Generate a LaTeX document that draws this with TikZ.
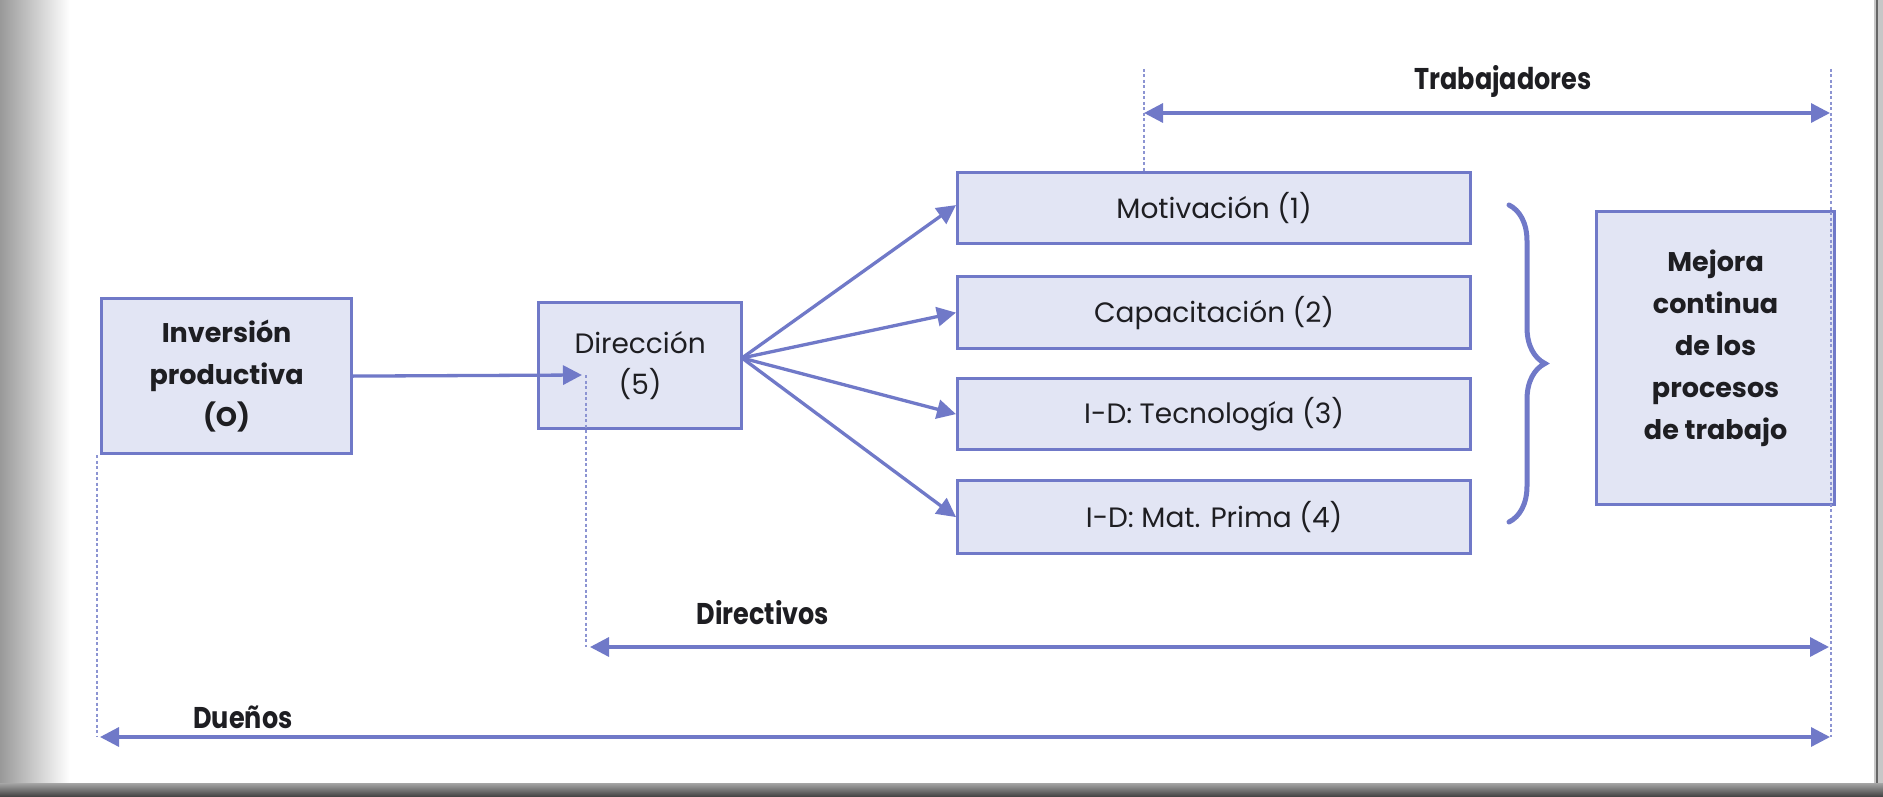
\documentclass[tikz,border=0pt]{standalone}
\usepackage{fontspec}
\setmainfont{Poppins}
\newfontfamily\lblfont{Poppins}[FakeStretch=0.85]
\usetikzlibrary{arrows.meta,decorations.pathreplacing}
\definecolor{lineblue}{RGB}{112,121,200}
\definecolor{guideblue}{RGB}{140,148,210}
\definecolor{boxfill}{RGB}{226,229,244}
\definecolor{txt}{RGB}{30,30,34}
\tikzset{
  box/.style={draw=lineblue, fill=boxfill, line width=3.2pt, inner sep=0pt,
    anchor=north west, align=center, text=txt},
  regtext/.style={font=\fontsize{28}{41}\selectfont},
  boldtext/.style={font=\bfseries\fontsize{27}{42}\selectfont},
  conn/.style={draw=lineblue, line width=3.3pt, -{Triangle[length=19pt,width=19pt]}},
  twoway/.style={draw=lineblue, line width=3.3pt,
    {Triangle[length=19pt,width=19pt]}-{Triangle[length=19pt,width=19pt]}},
  guide/.style={draw=guideblue, line width=1.3pt, dash pattern=on 3pt off 2.5pt},
  lbl/.style={font=\lblfont\bfseries\fontsize{30}{30}\selectfont, text=txt, inner sep=0pt},
  bracestyle/.style={draw=lineblue, line width=5pt, line cap=round, decorate,
    decoration={brace, amplitude=36pt}}
}
\begin{document}
\begin{tikzpicture}[x=1pt,y=-1pt]
\useasboundingbox (0,0) rectangle (1883,797);
% page scan shading
\fill[white] (0,0) rectangle (1883,797);
\shade[left color=black!40, right color=white] (0,0) rectangle (70,783);
\fill[black!22] (1874,0) rectangle (1883,797);
\fill[black!60] (1876,0) rectangle (1878,790);
\shade[top color=black!35, bottom color=black!75] (0,783) rectangle (1883,797);

% boxes
\node[box, boldtext, minimum width=250pt, minimum height=155pt] (inv) at (100,297)
  {Inversión\\productiva\\(O)};
\node[box, regtext, minimum width=203pt, minimum height=126pt] (dir) at (537,301)
  {Dirección\\(5)};
\node[box, regtext, minimum width=513pt, minimum height=71pt] (m1) at (956,171) {Motivación (1)};
\node[box, regtext, minimum width=513pt, minimum height=72pt] (m2) at (956,275) {Capacitación (2)};
\node[box, regtext, minimum width=513pt, minimum height=71pt] (m3) at (956,377) {I-D: Tecnología (3)};
\node[box, regtext, minimum width=513pt, minimum height=73pt] (m4) at (956,479) {I-D: Mat. Prima (4)};
\node[box, boldtext, minimum width=238pt, minimum height=293pt, text depth=26pt] (mej) at (1595,210)
  {Mejora\\continua\\de los\\procesos\\de trabajo};

% brace
\draw[bracestyle] (1509,205) -- (1509,522);

% coordinates
\coordinate (dtip) at (582,375);
\coordinate (fan) at (742,358);
\coordinate (trL) at (1144,113);
\coordinate (trR) at (1830,113);
\coordinate (diL) at (590,647);
\coordinate (diR) at (1829,647);
\coordinate (duL) at (100,737);
\coordinate (duR) at (1830,737);
\coordinate (topR) at (1831,69);
\coordinate (topL) at (1144,69);

% guides
\draw[guide] (topL) -- (m1.north west -| topL);
\draw[guide] (topR) -- (topR |- duR);
\draw[guide] ([xshift=4pt]dtip) -- ([xshift=4pt]dtip |- diL);
\draw[guide] ([xshift=-3pt]inv.south west) -- ([xshift=-3pt]inv.south west |- duL);

% connectors
\draw[conn] (inv.east) -- (dtip);
\draw[conn] (fan) -- ([yshift=3pt]m1.west);
\draw[conn] (fan) -- (m2.west);
\draw[conn] (fan) -- (m3.west);
\draw[conn] (fan) -- (m4.west);
\draw[twoway] (trL) -- (trR);
\draw[twoway] (diL) -- (diR);
\draw[twoway] (duL) -- (duR);

% labels
\node[lbl] (ltr) at (1503,81) {Trabajadores};
\node[lbl] (ldi) at (763,613) {Directivos};
\node[lbl] (ldu) at (243,717) {Dueños};
\end{tikzpicture}
\end{document}
